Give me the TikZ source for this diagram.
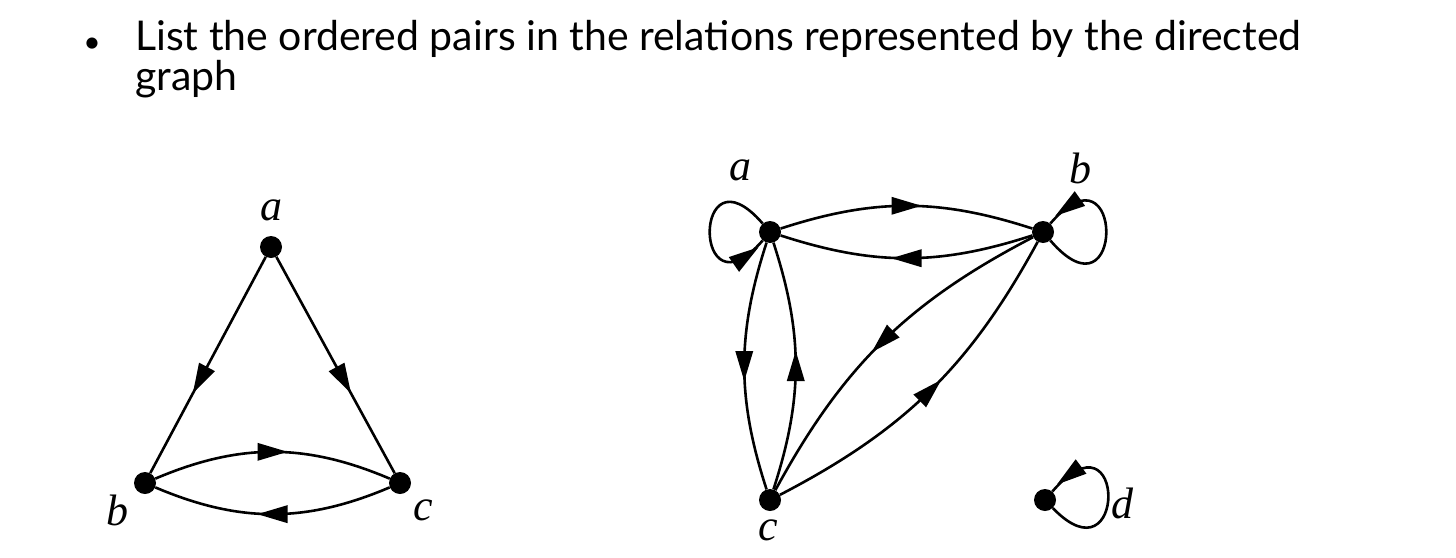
\documentclass[tikz,border=0pt]{standalone}
\usepackage{fontspec}
\setmainfont{Liberation Serif}
\newfontfamily\titlefont{Lato}
\usetikzlibrary{arrows.meta,decorations.markings}
\begin{document}
\begin{tikzpicture}[x=1pt,y=-1pt,
  vtx/.style={circle,fill=black,minimum size=22pt,inner sep=0pt},
  lbl/.style={font=\fontsize{44}{44}\selectfont\itshape},
  diedge/.style={line width=2.6pt, postaction={decorate},
    decoration={markings, mark=at position #1 with {\fill (-15pt,-9pt) -- (15pt,0pt) -- (-15pt,9pt) -- cycle;}}},
  diedge/.default=0.5,
  title/.style={anchor=base west, inner sep=0pt, font=\titlefont\fontsize{41}{44}\selectfont}]
\useasboundingbox (0,0) rectangle (1456,557);
% title
\node[inner sep=0pt, font=\titlefont\fontsize{30}{30}\selectfont] (bul) at (92,45) {\textbullet};
\node[title] (t1) at (135,50) {List the ordered pairs in the relations represented by the directed};
\node[title] (t2) at (135,90) {graph};
% left graph
\node[vtx] (la) at (271,247) {};
\node[vtx] (lb) at (145,483) {};
\node[vtx] (lc) at (400,483) {};
\node[lbl] (lla) at (271,210) {$\mathit{a}$};
\node[lbl] (llb) at (117,510) {$\mathit{b}$};
\node[lbl] (llc) at (423,510) {$\mathit{c}$};
\draw[diedge=0.57] (la) -- (lb);
\draw[diedge=0.57] (la) -- (lc);
\draw[diedge] (lb) to[bend left=23] (lc);
\draw[diedge] (lc) to[bend left=23] (lb);
% right graph
\node[vtx] (ra) at (770,232) {};
\node[vtx] (rb) at (1043,232) {};
\node[vtx] (rc) at (770,500) {};
\node[vtx] (rd) at (1045,500) {};
\node[lbl] (rla) at (740,170) {$\mathit{a}$};
\node[lbl] (rlb) at (1080,168) {$\mathit{b}$};
\node[lbl] (rlc) at (768,530) {$\mathit{c}$};
\node[lbl] (rld) at (1122,503) {$\mathit{d}$};
\draw[diedge] (ra) to[bend left=18] (rb);
\draw[diedge] (rb) to[bend left=18] (ra);
\draw[diedge] (ra) to[bend right=18] (rc);
\draw[diedge] (rc) to[bend right=18] (ra);
\draw[diedge] (rb) to[bend right=17] (rc);
\draw[diedge] (rc) to[bend right=17] (rb);
\draw[diedge=0.86] (ra) .. controls +(-78,-90) and +(-78,90) .. (ra);
\draw[diedge=0.86] (rb) .. controls +(82,95) and +(82,-95) .. (rb);
\draw[diedge=0.86] (rd) .. controls +(82,85) and +(82,-95) .. (rd);
\end{tikzpicture}
\end{document}
